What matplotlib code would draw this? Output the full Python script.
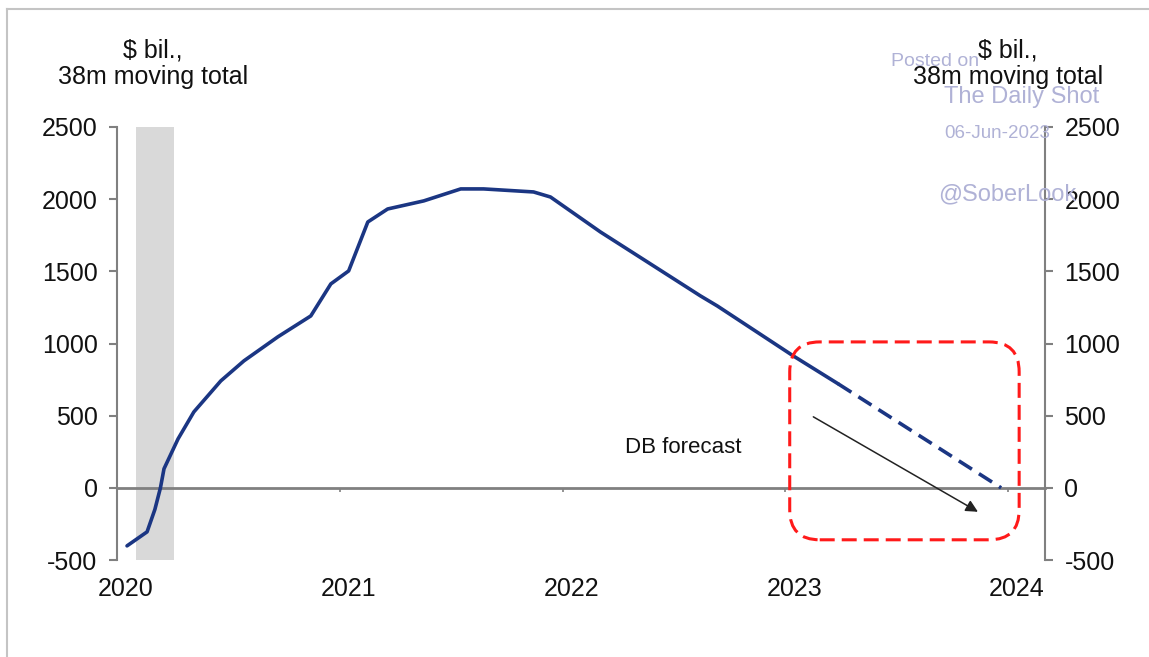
import matplotlib
matplotlib.use("Agg")
from matplotlib import pyplot as plt
from matplotlib.patches import FancyBboxPatch
from matplotlib.lines import Line2D

plt.rcParams['font.family'] = ['Liberation Sans', 'DejaVu Sans']
plt.rcParams['axes.unicode_minus'] = False

# 38-month moving total, $ bil. (fractional years)
years = [2020.045, 2020.135, 2020.170, 2020.195, 2020.211, 2020.274, 2020.345,
         2020.466, 2020.570, 2020.722, 2020.870, 2020.960, 2021.040, 2021.126,
         2021.215, 2021.377, 2021.543, 2021.646, 2021.870, 2021.946, 2022.170,
         2022.381, 2022.619, 2022.695, 2023.036, 2023.238]
totals = [-402, -305, -150, 0, 132, 339, 526,
          741, 880, 1046, 1191, 1413, 1503, 1842,
          1932, 1988, 2071, 2071, 2050, 2015, 1773,
          1565, 1330, 1260, 914, 720]

# DB forecast continuation
forecast_years = [2023.238, 2023.969]
forecast_totals = [720, 0]

recession = (2020.085, 2020.256)
year_ticks = [2020, 2021, 2022, 2023, 2024]
value_ticks = [-500, 0, 500, 1000, 1500, 2000, 2500]

NAVY = '#1b3683'
GREY = '#808080'
TEXT = '#111111'
MARK = '#b0b2d6'

W, H = 1149, 657
fig = plt.figure(figsize=(W / 100, H / 100), dpi=100)
ax_box = [117 / W, 1 - 560 / H, (1045 - 117) / W, (560 - 127) / H]
ax = fig.add_axes(ax_box)

xlim = (2020, 2024.166)
ylim = (-500, 2500)
ax.set_xlim(*xlim)
ax.set_ylim(*ylim)

# recession bar
ax.axvspan(*recession, color='#d9d9d9', lw=0, zorder=0)

ax.plot(years, totals, color=NAVY, lw=2.6, solid_capstyle='round',
        solid_joinstyle='round', zorder=3)
ax.plot(forecast_years, forecast_totals, color=NAVY, lw=2.6,
        linestyle=(0, (4.3, 2.3)), zorder=3)

# spines: left axis, zero line with year ticks
for s in ['top', 'right']:
    ax.spines[s].set_visible(False)
ax.spines['left'].set_color(GREY)
ax.spines['left'].set_linewidth(1.5)
ax.spines['bottom'].set_position(('data', 0))
ax.spines['bottom'].set_color(GREY)
ax.spines['bottom'].set_linewidth(2)

ax.set_yticks(value_ticks)
ax.tick_params(axis='y', direction='out', length=6, width=1.5, color=GREY,
               labelsize=18, labelcolor=TEXT, pad=8)
ax.set_xticks(year_ticks)
ax.tick_params(axis='x', direction='out', length=3, width=1.2, color=GREY,
               labelbottom=False)

# year labels sit below the plot, nudged a little right of the ticks
sec = ax.secondary_xaxis('bottom')
sec.set_xticks([y + 0.04 for y in year_ticks], labels=[str(y) for y in year_ticks])
sec.tick_params(length=0, pad=12, labelsize=18, labelcolor=TEXT)
sec.spines['bottom'].set_visible(False)

# right axis mirrors the left one
ax2 = ax.twinx()
ax2.set_ylim(*ylim)
for s in ['top', 'left', 'bottom']:
    ax2.spines[s].set_visible(False)
ax2.spines['right'].set_color(GREY)
ax2.spines['right'].set_linewidth(1.5)
ax2.set_yticks(value_ticks)
ax2.tick_params(axis='y', direction='out', length=6, width=1.5, color=GREY,
                labelsize=18, labelcolor=TEXT, pad=8)

# rounded dashed box around the forecast
px_x = (xlim[1] - xlim[0]) / (1045 - 117)
px_y = (ylim[1] - ylim[0]) / (560 - 127)
box_x, box_y = 2023.02, -360
box_w, box_h = 2024.05 - 2023.02, 1011 + 360
box = FancyBboxPatch((box_x, box_y), box_w, box_h,
                     boxstyle='round,pad=0,rounding_size=%f' % (30 * px_x),
                     mutation_aspect=px_y / px_x, fill=False,
                     edgecolor='#ff1a1a', lw=2.2, linestyle=(0, (4.9, 2.3)),
                     zorder=4)
ax.add_patch(box)

ax.annotate('', xy=(2023.865, -166), xytext=(2023.126, 492),
            arrowprops=dict(arrowstyle='-|>', color='#222222', lw=1.1,
                            mutation_scale=18, shrinkA=0, shrinkB=0),
            zorder=5)
ax.text(2022.54, 277, 'DB forecast', ha='center', va='center',
        fontsize=16, color=TEXT)

# watermark
fig.text(935 / W, 1 - 62 / H, 'Posted on', ha='center', va='center',
         fontsize=14, color=MARK)
fig.text(1022 / W, 1 - 97 / H, 'The Daily Shot', ha='center', va='center',
         fontsize=17, color=MARK)
fig.text(997 / W, 1 - 133 / H, '06-Jun-2023', ha='center', va='center',
         fontsize=13.5, color=MARK)
fig.text(938 / W, 1 - 194 / H, '@SoberLook', ha='left', va='center',
         fontsize=17, color=MARK)

# axis headers
fig.text(153 / W, 1 - 64 / H, '$ bil.,\n38m moving total', ha='center',
         va='center', fontsize=18, color=TEXT, linespacing=1.15)
fig.text(1008 / W, 1 - 64 / H, '$ bil.,\n38m moving total', ha='center',
         va='center', fontsize=18, color=TEXT, linespacing=1.15)

# frame lines along top and left edge
fig.add_artist(Line2D([7 / W, 1], [1 - 9 / H, 1 - 9 / H], color='#c4c4c4',
                      lw=1.5, transform=fig.transFigure))
fig.add_artist(Line2D([7 / W, 7 / W], [0, 1 - 9 / H], color='#c4c4c4',
                      lw=1.5, transform=fig.transFigure))

fig.savefig('out.png', dpi=100, facecolor='white')
